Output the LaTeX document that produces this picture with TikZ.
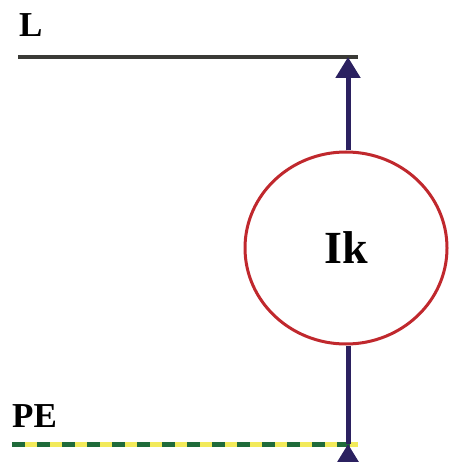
\documentclass[tikz,border=0pt]{standalone}
\usepackage{fontspec}
\setmainfont{Liberation Serif}
\usepackage{xcolor}
\usetikzlibrary{arrows.meta,positioning,shapes.geometric}
\definecolor{navy}{HTML}{2B2160}
\definecolor{ringred}{HTML}{C0282D}
\definecolor{pegreen}{HTML}{1F6B3A}
\definecolor{peyellow}{HTML}{F2EA5A}
\definecolor{lgray}{HTML}{3A3A36}

\begin{document}
\begin{tikzpicture}[x=1pt,y=-1pt,font=\bfseries,>={Triangle[width=24pt,length=21pt]},
  lbl/.style={anchor=south west,inner sep=0pt,font=\fontsize{35}{35}\selectfont\bfseries},
  feed/.style={draw=navy,line width=5pt},
  ring/.style={ellipse,draw=ringred,line width=3pt,minimum width=202pt,minimum height=192pt,inner sep=0pt}]
\useasboundingbox (0,0) rectangle (450,462);
\clip (0,0) rectangle (450,462);
% conductors
\coordinate (Lw) at (18,57); \coordinate (Le) at (358,57);
\coordinate (PEw) at (12,444); \coordinate (PEe) at (358,444);
\coordinate (Ltap) at (348,57); \coordinate (PEtap) at (348,444);
\coordinate (bot) at (348,490);
\draw[lgray,line width=4pt] (Lw)--(Le);
\draw[peyellow,line width=5pt] (PEw)--(PEe);
\draw[pegreen,line width=5pt,dash pattern=on 13pt off 12pt] (PEw)--(PEe);
\node[lbl] (l) at (19,37) {L};
\node[lbl] (pe) at (12,428) {PE};
% fault current
\node[ring] (ik) at (346,248) {\fontsize{46}{46}\selectfont Ik};
\draw[feed,->] (Ltap |- ik.north)--(Ltap);
\draw[feed] (ik.south -| PEtap)--(PEtap);
\draw[feed,->] (bot)--(PEtap);
\end{tikzpicture}
\end{document}
